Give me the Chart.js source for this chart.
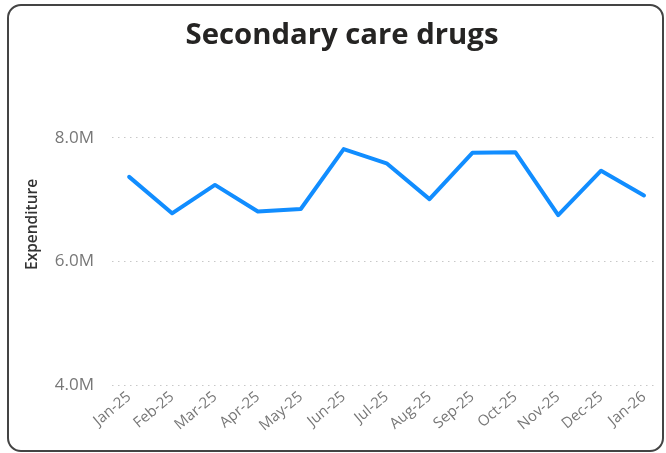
<!DOCTYPE html>
<html>
<head>
<meta charset="utf-8">
<script src="https://cdn.jsdelivr.net/npm/chart.js@4/dist/chart.umd.min.js"></script>
<style>
  html, body { margin: 0; padding: 0; background: #fff; }
  #wrap { position: relative; width: 666px; height: 453px; overflow: hidden; }
  #frame {
    position: absolute; left: 7px; top: 4px; width: 657px; height: 448px;
    box-sizing: border-box; border: 2px solid #444; border-radius: 14px;
    pointer-events: none;
  }
</style>
</head>
<body>
<div id="wrap">
  <canvas id="chart"></canvas>
  <div id="frame"></div>
</div>
<script>
// Monthly expenditure on secondary care drugs
const months = ['Jan-25', 'Feb-25', 'Mar-25', 'Apr-25', 'May-25', 'Jun-25', 'Jul-25',
                'Aug-25', 'Sep-25', 'Oct-25', 'Nov-25', 'Dec-25', 'Jan-26'];
const expenditure = [7370000, 6780000, 7240000, 6810000, 6850000, 7820000, 7590000,
                     7010000, 7760000, 7770000, 6750000, 7470000, 7070000];
const yTickValues = [4000000, 6000000, 8000000];

const FONT = "'Open Sans', 'Segoe UI', sans-serif";

new Chart(document.getElementById('chart'), {
  type: 'line',
  data: {
    datasets: [{
      data: expenditure.map((v, i) => ({ x: i, y: v })),
      borderColor: '#118DFF',
      borderWidth: 4,
      borderCapStyle: 'round',
      borderJoinStyle: 'round',
      pointRadius: 0,
      pointHoverRadius: 0,
      tension: 0,
      fill: false
    }]
  },
  options: {
    responsive: true,
    maintainAspectRatio: false,
    animation: false,
    devicePixelRatio: 1,
    layout: { padding: { left: 28, right: 10, top: 0, bottom: 0 } },
    plugins: {
      legend: { display: false },
      tooltip: { enabled: false },
      title: {
        display: true,
        text: 'Secondary care drugs',
        color: '#252423',
        font: { family: FONT, size: 29.3, weight: 'bold' },
        padding: { top: 18.5, bottom: 10.2 }
      }
    },
    scales: {
      x: {
        type: 'linear',
        min: -0.4,
        max: 12.28,
        afterBuildTicks: s => { s.ticks = months.map((_, i) => ({ value: i })); },
        afterFit: s => { s.height = 68; },
        grid: { display: false, drawTicks: false },
        border: { display: false },
        ticks: {
          autoSkip: false,
          minRotation: 40,
          maxRotation: 40,
          padding: 3,
          color: '#777',
          font: { family: FONT, size: 15 },
          callback: v => months[v]
        }
      },
      y: {
        min: 4000000,
        max: 9200000,
        afterBuildTicks: s => { s.ticks = yTickValues.map(v => ({ value: v })); },
        afterFit: s => { s.width = 84; },
        grid: { color: '#c8c8c8', lineWidth: 1, drawTicks: false },
        border: { display: false, dash: [1.5, 4.5] },
        ticks: {
          padding: 18,
          color: '#777',
          font: { family: FONT, size: 17 },
          callback: v => (v / 1000000).toFixed(1) + 'M'
        },
        title: {
          display: true,
          text: 'Expenditure',
          color: '#333',
          font: { family: FONT, size: 15.5, weight: '600' },
          padding: { top: -5, bottom: 0 }
        }
      }
    }
  }
});
</script>
</body>
</html>
